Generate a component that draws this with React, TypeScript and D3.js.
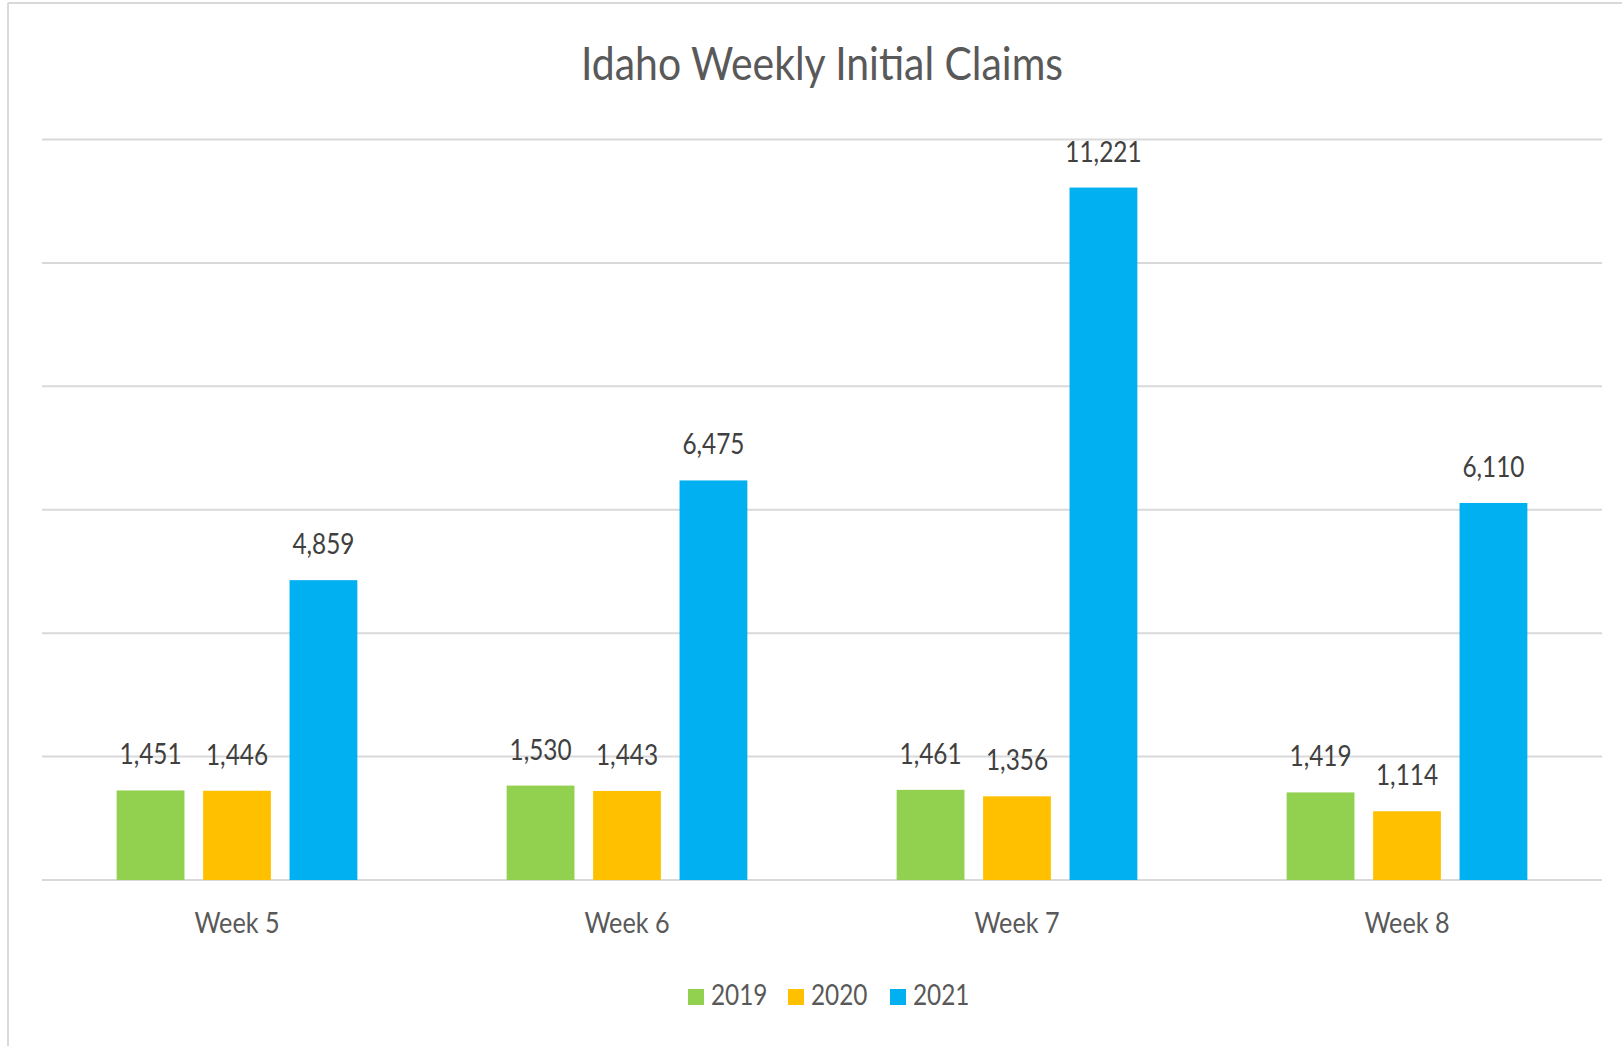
import React from "react";
import * as d3 from "d3";

const categories = ["Week 5", "Week 6", "Week 7", "Week 8"];
const seriesNames = ["2019", "2020", "2021"];
const values2019 = [1451, 1530, 1461, 1419];
const values2020 = [1446, 1443, 1356, 1114];
const values2021 = [4859, 6475, 11221, 6110];
const yTicks = [0, 2000, 4000, 6000, 8000, 10000, 12000];
const colors = ["#92D050", "#FFC000", "#00B0F0"];
const title = "Idaho Weekly Initial Claims";

const W = 1622;
const H = 1046;
const FONT = "Lato, 'Open Sans', sans-serif";
const TEXT = "#595959";
const K = 0.87;

function CText(props: {
  x: number;
  y: number;
  size: number;
  fill: string;
  anchor?: string;
  children: React.ReactNode;
}) {
  return (
    <text
      transform={`translate(${props.x},${props.y}) scale(${K},1)`}
      textAnchor={props.anchor || "start"}
      fontFamily={FONT}
      fontSize={props.size}
      fill={props.fill}
    >
      {props.children}
    </text>
  );
}

export default function App() {
  const series = [values2019, values2020, values2021];
  const plotLeft = 42;
  const plotRight = 1602;
  const plotTop = 139.5;
  const plotBottom = 880;

  const x0 = d3.scaleBand<string>().domain(categories).range([plotLeft, plotRight]).padding(0);
  const groupW = 240.7;
  const x1 = d3
    .scaleBand<string>()
    .domain(seriesNames)
    .range([0, groupW])
    .paddingInner(0.2155)
    .paddingOuter(0);
  const y = d3.scaleLinear().domain([0, 12000]).range([plotBottom, plotTop]);
  const fmt = d3.format(",");

  const legendItems = [
    { name: "2019", sx: 688, tx: 711 },
    { name: "2020", sx: 788, tx: 811 },
    { name: "2021", sx: 890, tx: 913 },
  ];

  return (
    <svg
      width={W}
      height={H}
      style={{ position: "absolute", left: 0, top: 0, display: "block", background: "#fff" }}
    >
      <rect x={0} y={0} width={W} height={H} fill="#fff" />
      <line x1={8} y1={3} x2={W} y2={3} stroke="#D9D9D9" strokeWidth={2} />
      <line x1={8} y1={3} x2={8} y2={H} stroke="#D9D9D9" strokeWidth={2} />

      <CText x={(plotLeft + plotRight) / 2} y={80} anchor="middle" size={47} fill={TEXT}>
        {title}
      </CText>

      {yTicks.map((t) => (
        <line
          key={t}
          x1={plotLeft}
          x2={plotRight}
          y1={y(t)}
          y2={y(t)}
          stroke="#D9D9D9"
          strokeWidth={2}
        />
      ))}

      {categories.map((c, ci) => {
        const gx = (x0(c) as number) + (x0.bandwidth() - groupW) / 2;
        return (
          <g key={c}>
            {seriesNames.map((s, si) => {
              const v = series[si][ci];
              const bx = gx + (x1(s) as number);
              const bw = x1.bandwidth();
              return (
                <g key={s}>
                  <rect
                    x={bx}
                    y={y(v)}
                    width={bw}
                    height={plotBottom - y(v)}
                    fill={colors[si]}
                  />
                  <CText x={bx + bw / 2} y={y(v) - 26} anchor="middle" size={28} fill="#404040">
                    {fmt(v)}
                  </CText>
                </g>
              );
            })}
            <CText
              x={(x0(c) as number) + x0.bandwidth() / 2}
              y={933}
              anchor="middle"
              size={29}
              fill={TEXT}
            >
              {c}
            </CText>
          </g>
        );
      })}

      {legendItems.map((l, i) => (
        <g key={l.name}>
          <rect x={l.sx} y={989} width={16} height={16} fill={colors[i]} />
          <CText x={l.tx} y={1005} size={28} fill={TEXT}>
            {l.name}
          </CText>
        </g>
      ))}
    </svg>
  );
}
